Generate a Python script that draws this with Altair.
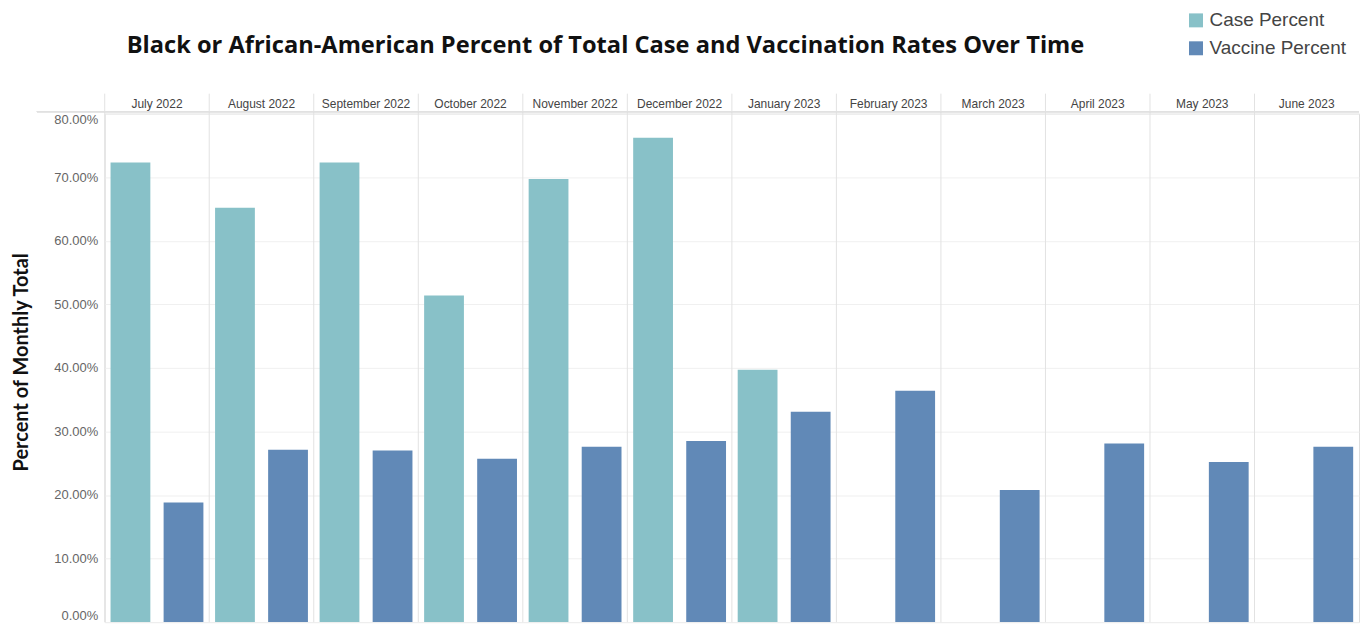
import altair as alt
import pandas as pd

months = ["July 2022", "August 2022", "September 2022", "October 2022", "November 2022",
          "December 2022", "January 2023", "February 2023", "March 2023", "April 2023",
          "May 2023", "June 2023"]
case_pct = [72.3, 65.2, 72.3, 51.4, 69.7, 76.2, 39.7, None, None, None, None, None]
vaccine_pct = [18.8, 27.1, 27.0, 25.7, 27.6, 28.5, 33.1, 36.4, 20.8, 28.1, 25.2, 27.6]
series = ["Case Percent", "Vaccine Percent"]
colors = ["#88c1c8", "#6189b7"]

rows = []
for m, c, v in zip(months, case_pct, vaccine_pct):
    if c is not None:
        rows.append({"month": m, "series": series[0], "value": c / 100})
    rows.append({"month": m, "series": series[1], "value": v / 100})
df = pd.DataFrame(rows)
sep = pd.DataFrame({"month": months})

W, H = 1258, 510
FONT = "Liberation Sans"

xscale = alt.Scale(domain=months, paddingInner=0, paddingOuter=0)

bars = alt.Chart(df).mark_bar().encode(
    x=alt.X("month:N", sort=months, scale=xscale, title=None,
            axis=alt.Axis(orient="top", labelAngle=0, ticks=False, domain=False, grid=False,
                          labelFontSize=12, labelColor="#444", labelFont=FONT, labelPadding=10,
                          labelAlign="center", labelBaseline="middle", labelOverlap=False)),
    xOffset=alt.XOffset("series:N", sort=series,
                        scale=alt.Scale(paddingInner=0.25, paddingOuter=0.11)),
    y=alt.Y("value:Q", scale=alt.Scale(domain=[0, 0.8]), title="Percent of Monthly Total",
            axis=alt.Axis(format=".2%", values=[0, 0.1, 0.2, 0.3, 0.4, 0.5, 0.6, 0.7, 0.8],
                          ticks=False, domain=False, grid=True, gridColor="#f0f0f0",
                          labelFontSize=13, labelColor="#666", labelFont=FONT, labelPadding=7,
                          labelFlush=True,
                          titleFont="Lato", titleFontSize=20, titleFontWeight="bold",
                          titleColor="#111", titleX=-77, titleY=H / 2 - 6, titleAngle=-90,
                          titleBaseline="alphabetic", titleAlign="center")),
    color=alt.Color("series:N", sort=series, scale=alt.Scale(domain=series, range=colors),
                    legend=alt.Legend(title=None, orient="none", legendX=1085, legendY=-103,
                                      symbolType="square", symbolSize=196, symbolStrokeWidth=0,
                                      labelFontSize=19, labelColor="#444", labelFont=FONT,
                                      rowPadding=8, labelOffset=4)),
)

seps = alt.Chart(sep).mark_rule(color="#e2e2e2", strokeWidth=1).encode(
    x=alt.X("month:N", sort=months, scale=xscale, bandPosition=0, axis=None),
    y=alt.value(-20), y2=alt.value(H),
)

topline = alt.Chart(sep).mark_rule(color="#e2e2e2", strokeWidth=1).encode(
    x=alt.value(-68), x2=alt.value(W), y=alt.value(-2)
)

chart = alt.layer(bars, seps, topline).resolve_axis(x="independent").properties(
    width=W, height=H,
    title=alt.TitleParams(
        "Black or African-American Percent of Total Case and Vaccination Rates Over Time",
        font="Open Sans", fontSize=23.7, fontWeight="bold", color="#111", anchor="start",
        dx=115, offset=0, dy=47),
    autosize=alt.AutoSizeParams(type="none"),
    padding={"left": 97, "top": 105, "right": 5, "bottom": 2},
).configure_view(stroke=None).configure(background="white")

chart.save("out.html", embed_options={"renderer": "svg", "actions": False})
